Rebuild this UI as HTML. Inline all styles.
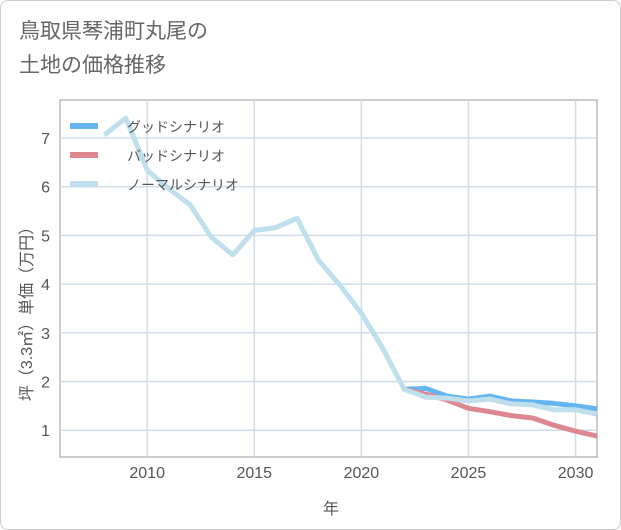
<!DOCTYPE html>
<html><head><meta charset="utf-8"><style>
body{margin:0;background:#fff;}
#wrap{position:relative;width:619px;height:528px;border:1px solid #ccc;border-radius:8px;overflow:hidden;font-family:"Liberation Sans","Noto Sans CJK JP",sans-serif;}
#title{position:absolute;left:18px;top:14px;font-size:21px;line-height:34px;color:#666;}
svg text{font-family:"Liberation Sans","Noto Sans CJK JP",sans-serif;}
</style></head><body>
<div id="wrap">
<div id="title">鳥取県琴浦町丸尾の<br>土地の価格推移</div>
<svg id="chart" width="621" height="530" style="position:absolute;left:-1px;top:-1px"></svg>
</div>
<script>
const years=[2008,2009,2010,2011,2012,2013,2014,2015,2016,2017,2018,2019,2020,2021,2022,2023,2024,2025,2026,2027,2028,2029,2030,2031];
const normal=[7.06,7.41,6.34,5.96,5.63,4.96,4.6,5.1,5.16,5.35,4.49,3.98,3.4,2.68,1.84,1.68,1.66,1.6,1.64,1.54,1.52,1.42,1.42,1.33];
const fYears=[2022,2023,2024,2025,2026,2027,2028,2029,2030,2031];
const good=[1.84,1.86,1.7,1.64,1.7,1.6,1.58,1.55,1.5,1.44];
const bad=[1.84,1.74,1.62,1.45,1.38,1.3,1.25,1.1,0.98,0.88];
const xTicks=[2010,2015,2020,2025,2030];
const yTicks=[1,2,3,4,5,6,7];
const L=60,R=597,T=100,B=457,x0=2005.93,x1=2031.0,y0=0.45,y1=7.78;
const X=v=>L+(v-x0)/(x1-x0)*(R-L), Y=v=>B-(v-y0)/(y1-y0)*(B-T);
const svg=document.getElementById('chart');const NS='http://www.w3.org/2000/svg';
function mk(t,a,p){const e=document.createElementNS(NS,t);for(const k in a)e.setAttribute(k,a[k]);(p||svg).appendChild(e);return e;}
const bg=mk('rect',{x:L,y:T,width:R-L,height:B-T,fill:'#fff',stroke:'#999','stroke-width':1});


xTicks.forEach(v=>{const l=mk('line',{x1:X(v),x2:X(v),y1:T,y2:B,stroke:'#d0dde9','stroke-width':1.5});


const t=mk('text',{x:X(v),y:B+21,'text-anchor':'middle','font-size':16,fill:'#555'});t.textContent=v;

});
yTicks.forEach(v=>{const l=mk('line',{x1:L,x2:R,y1:Y(v),y2:Y(v),stroke:'#d0dde9','stroke-width':1.5});


const t=mk('text',{x:L-10,y:Y(v)+6,'text-anchor':'end','font-size':16,fill:'#555'});t.textContent=v;

});
function line(xs,ys,c,n){const p=mk('polyline',{points:xs.map((x,i)=>X(x)+','+Y(ys[i])).join(' '),fill:'none',stroke:c,'stroke-width':5,'stroke-linejoin':'round'});

}
const clip=mk('clipPath',{id:'c'});mk('rect',{x:L,y:T,width:R-L,height:B-T},clip);
line(fYears,good,'#64b5f0','good-scenario-line');
line(fYears,bad,'#dd8890','bad-scenario-line');
line(years,normal,'#bfdfec','normal-scenario-line');
svg.querySelectorAll('polyline').forEach(p=>p.setAttribute('clip-path','url(#c)'));
const leg=[['グッドシナリオ','#64b5f0'],['バッドシナリオ','#dd8890'],['ノーマルシナリオ','#bfdfec']];
leg.forEach((d,i)=>{const y=126+i*29;const g=mk('g',{});


mk('line',{x1:70,x2:98,y1:y,y2:y,stroke:d[1],'stroke-width':6},g);
const t=mk('text',{x:127,y:y+6,'font-size':14,fill:'#555'},g);t.textContent=d[0];});
const xt=mk('text',{x:331,y:514,'text-anchor':'middle','font-size':16,fill:'#555'});xt.textContent='年';


const yt=mk('text',{x:0,y:0,'text-anchor':'middle','font-size':16,fill:'#555',transform:'translate(32,310) rotate(-90)'});yt.textContent='坪（3.3㎡）単価（万円）';


</script>
</body></html>
